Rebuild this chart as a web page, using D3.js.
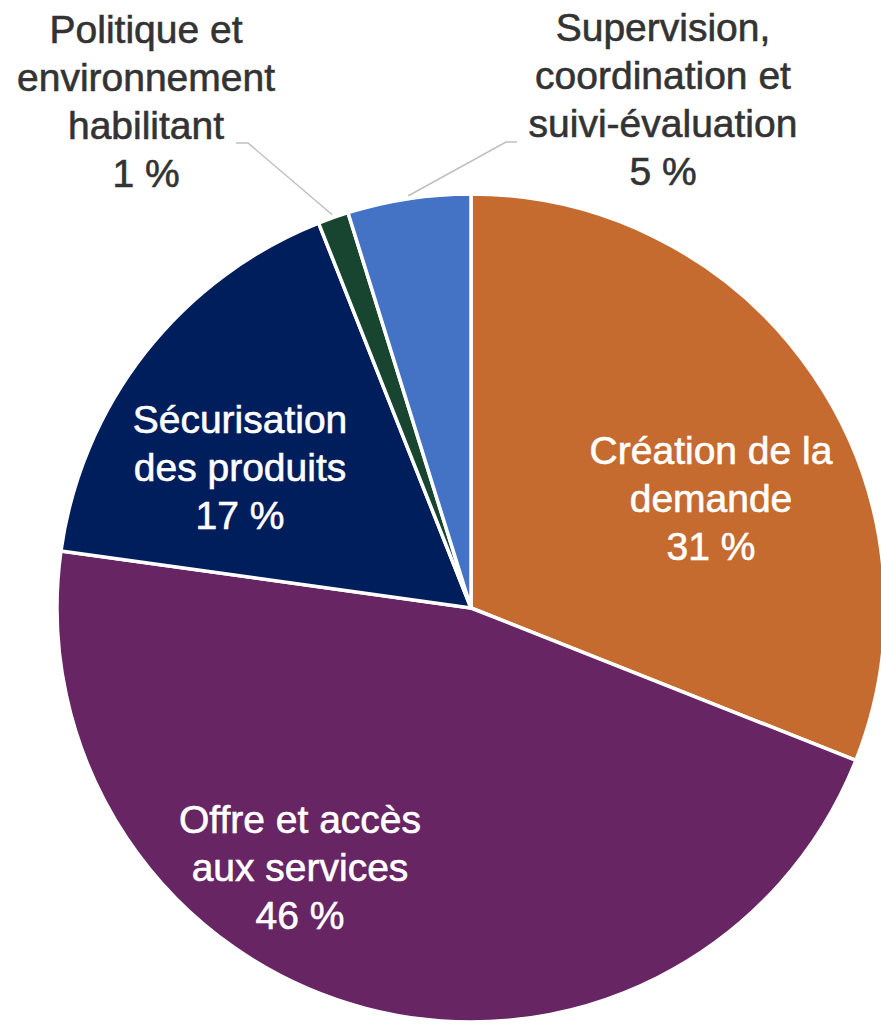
<!DOCTYPE html>
<html>
<head>
<meta charset="utf-8">
<script src="https://cdn.jsdelivr.net/npm/d3@7"></script>
<style>
  body { margin: 0; background: #fff; }
  svg { display: block; }
</style>
</head>
<body>
<div id="chart"></div>
<script>
// data (share of budget, %)
var categories = ["Création de la demande", "Offre et accès aux services", "Sécurisation des produits",
                  "Politique et environnement habilitant", "Supervision, coordination et suivi-évaluation"];
var values = [31.0, 46.2, 16.8, 1.2, 4.8];
var pctLabels = ["31 %", "46 %", "17 %", "1 %", "5 %"];
var labelLines = [
  ["Création de la", "demande"],
  ["Offre et accès", "aux services"],
  ["Sécurisation", "des produits"],
  ["Politique et", "environnement", "habilitant"],
  ["Supervision,", "coordination et", "suivi-évaluation"]
];

var colors = ["#C66B30", "#672663", "#001E5C", "#17452F", "#4472C4"];

var width = 881, height = 1025;
var cx = 471, cy = 608, radius = 414;

var svg = d3.select("#chart")
  .append("svg")
    .attr("width", width)
    .attr("height", height);

var g = svg.append("g")
  .attr("transform", "translate(" + cx + "," + cy + ")");

var pie = d3.pie()
  .sort(null)
  .value(function (d) { return d; });

var arc = d3.arc()
  .innerRadius(0)
  .outerRadius(radius);

var arcs = pie(values);

// slices
g.selectAll("path.slice")
  .data(arcs)
  .enter()
  .append("path")
    .attr("class", "slice")
    .attr("d", arc)
    .attr("fill", function (d, i) { return colors[i]; })
    .attr("stroke", "#fff")
    .attr("stroke-width", 3.5)
    .attr("stroke-linejoin", "round");

// label placement (absolute page coords: center x, first baseline) - layout only
var labelPos = [
  { x: 711, y: 464, fill: "#fff" },
  { x: 300, y: 833, fill: "#fff" },
  { x: 240, y: 433, fill: "#fff" },
  { x: 146, y: 43, fill: "#333" },
  { x: 663, y: 41, fill: "#333" }
];
var lineH = 48;

var labels = svg.selectAll("text.lbl")
  .data(arcs)
  .enter()
  .append("text")
    .attr("class", "lbl")
    .attr("text-anchor", "middle")
    .attr("font-family", "'Liberation Sans', Arial, sans-serif")
    .attr("font-size", 39)
    .attr("fill", function (d, i) { return labelPos[i].fill; })
    .attr("stroke", function (d, i) { return labelPos[i].fill; })
    .attr("stroke-width", 0.6)
    .attr("transform", function (d, i) {
      return "translate(" + labelPos[i].x + "," + labelPos[i].y + ")";
    });

labels.each(function (d, i) {
  var t = d3.select(this);
  var lines = labelLines[i].concat([pctLabels[i]]);
  lines.forEach(function (s, k) {
    t.append("tspan")
      .attr("x", 0)
      .attr("y", k * lineH)
      .text(s);
  });
});

// leader lines for the two small slices
function outerPoint(d, r) {
  var a = (d.startAngle + d.endAngle) / 2;
  return [cx + Math.sin(a) * r, cy - Math.cos(a) * r];
}
var leaders = [
  { idx: 3, start: [236, 143], elbow: [248, 143] },
  { idx: 4, start: [517, 142], elbow: [506, 142] }
];
leaders.forEach(function (l) {
  var end = outerPoint(arcs[l.idx], radius + 3);
  svg.append("path")
    .attr("d", d3.line()([l.start, l.elbow, end]))
    .attr("fill", "none")
    .attr("stroke", "#BFBFBF")
    .attr("stroke-width", 1.5);
});
</script>
</body>
</html>
